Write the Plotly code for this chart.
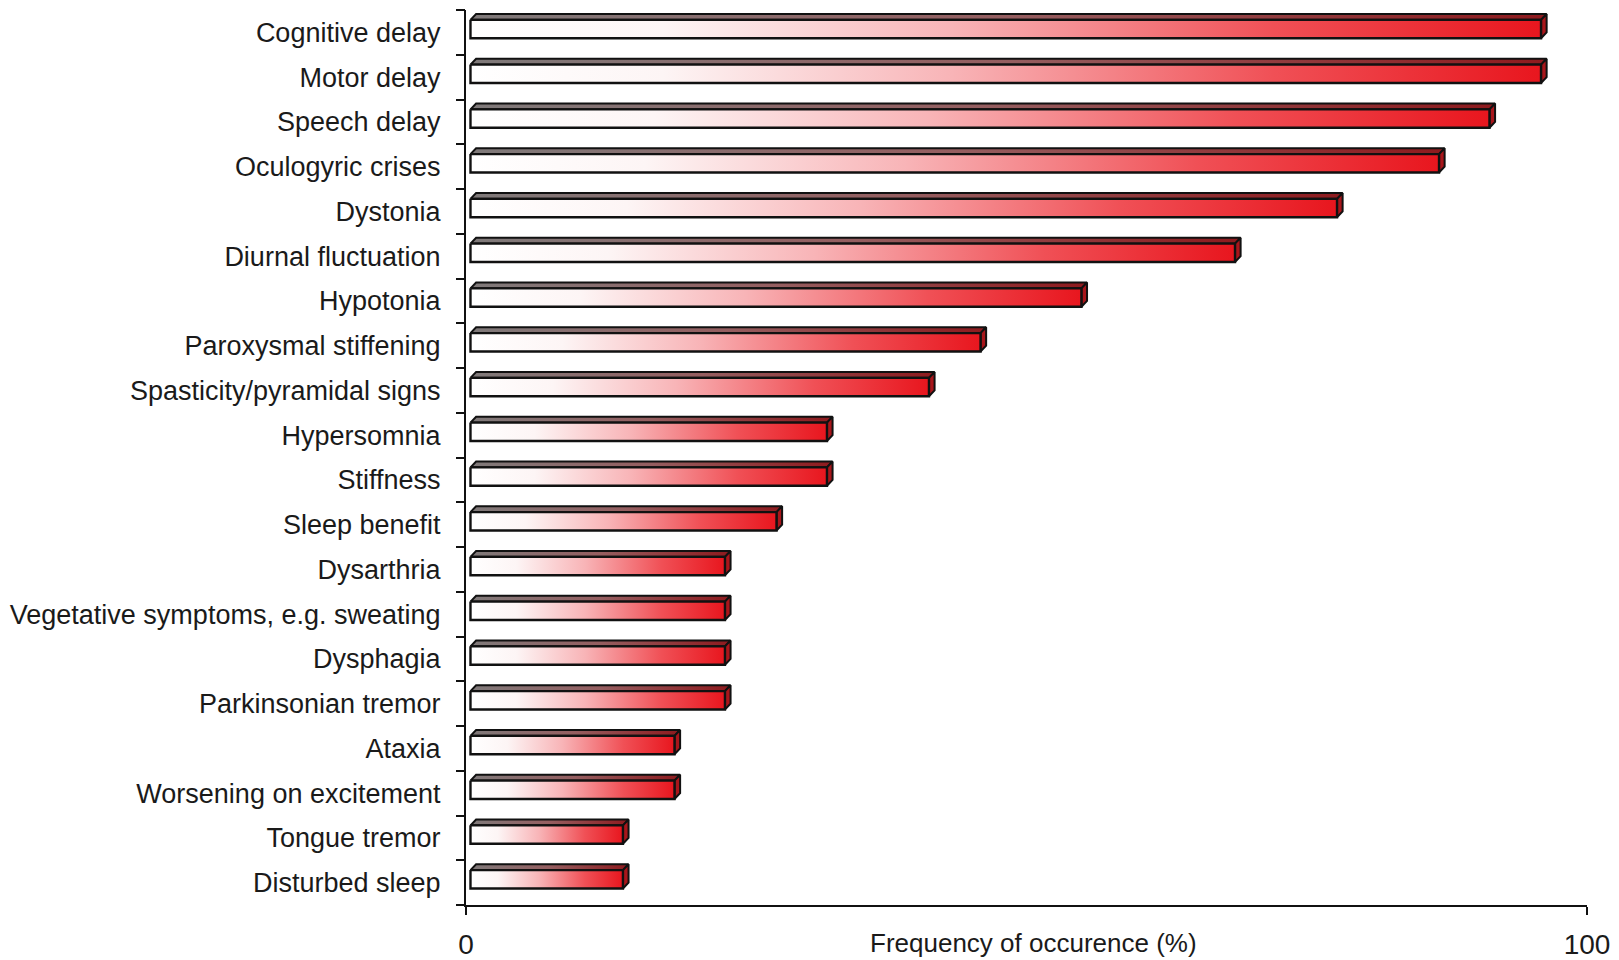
import plotly.graph_objects as go

# Symptom frequencies (%), listed top to bottom
symptoms = [
    "Cognitive delay", "Motor delay", "Speech delay", "Oculogyric crises",
    "Dystonia", "Diurnal fluctuation", "Hypotonia", "Paroxysmal stiffening",
    "Spasticity/pyramidal signs", "Hypersomnia", "Stiffness", "Sleep benefit",
    "Dysarthria", "Vegetative symptoms, e.g. sweating", "Dysphagia",
    "Parkinsonian tremor", "Ataxia", "Worsening on excitement",
    "Tongue tremor", "Disturbed sleep",
]
frequency = [
    95.5, 95.5, 90.9, 86.4, 77.3, 68.2, 54.5, 45.5, 40.9, 31.8,
    31.8, 27.3, 22.7, 22.7, 22.7, 22.7, 18.2, 18.2, 13.6, 13.6,
]
x_ticks = [0, 100]
x_title = "Frequency of occurence (%)"

FONT = "Liberation Sans, Arial, sans-serif"

# pseudo-3D bar geometry (data units)
gap = 0.4          # small gap between axis and bar start
face_top = -0.28   # front face top edge relative to category centre
face_bot = 0.13    # front face bottom edge
depth_x = 0.5      # receding depth along x
depth_y = 0.13     # receding depth along y

front_scale = [[0, "#ffffff"], [0.18, "#fdf5f5"], [0.45, "#f8b4b7"],
               [0.75, "#f05056"], [1, "#e8161e"]]
top_scale = [[0, "#7f7a7a"], [0.5, "#955e60"], [1, "#8e1a1e"]]

fig = go.Figure()
for i, v in enumerate(frequency):
    x0, x1 = gap, gap + v
    yt, yb = i + face_top, i + face_bot
    # top face
    fig.add_trace(go.Scatter(
        x=[x0, x1, x1 + depth_x, x0 + depth_x, x0],
        y=[yt, yt, yt - depth_y, yt - depth_y, yt],
        mode="lines", fill="toself",
        fillgradient=dict(type="horizontal", colorscale=top_scale),
        line=dict(color="#111111", width=2),
        hoverinfo="skip", showlegend=False))
    # side face
    fig.add_trace(go.Scatter(
        x=[x1, x1 + depth_x, x1 + depth_x, x1, x1],
        y=[yt, yt - depth_y, yb - depth_y, yb, yt],
        mode="lines", fill="toself", fillcolor="#a8161b",
        line=dict(color="#111111", width=2),
        hoverinfo="skip", showlegend=False))
    # front face
    fig.add_trace(go.Scatter(
        x=[x0, x1, x1, x0, x0],
        y=[yt, yt, yb, yb, yt],
        mode="lines", fill="toself",
        fillgradient=dict(type="horizontal", colorscale=front_scale),
        line=dict(color="#111111", width=2.4),
        hoverinfo="skip", showlegend=False,
        name=symptoms[i]))

# carrier trace for the boundary-tick axis
fig.add_trace(go.Scatter(x=[None], y=[None], yaxis="y2",
                         hoverinfo="skip", showlegend=False))

n = len(symptoms)
y_range = [n - 0.5, -0.5]
boundaries = [k - 0.5 for k in range(n + 1)]

fig.update_layout(
    width=1619, height=960,
    margin=dict(l=466, r=32, t=10, b=55, autoexpand=False),
    paper_bgcolor="white", plot_bgcolor="white",
    font=dict(family=FONT, color="#1a1a1a"),
    xaxis=dict(
        range=[0, 100], tickvals=x_ticks, ticktext=[str(t) for t in x_ticks],
        ticks="outside", ticklen=8, tickwidth=2, tickcolor="#111111",
        showline=True, linecolor="#111111", linewidth=2.2,
        showgrid=False, zeroline=False, automargin=False,
        tickfont=dict(size=28, family=FONT, color="#1a1a1a"),
        ticklabelstandoff=5,
    ),
    yaxis=dict(
        range=y_range, tickvals=list(range(n)), ticktext=symptoms,
        ticks="", showline=True, linecolor="#111111", linewidth=2.2,
        showgrid=False, zeroline=False, automargin=False,
        tickfont=dict(size=27, family=FONT, color="#1a1a1a"),
        ticklabelstandoff=18,
    ),
    yaxis2=dict(
        overlaying="y", side="left", range=y_range,
        tickvals=boundaries, ticktext=[""] * len(boundaries),
        ticks="outside", ticklen=9, tickwidth=1.5, tickcolor="#111111",
        showline=False, showgrid=False, zeroline=False,
        showticklabels=False, automargin=False,
    ),
    annotations=[dict(
        text=x_title, xref="paper", yref="paper", x=0.506, y=0,
        xanchor="center", yanchor="middle", yshift=-38, showarrow=False,
        font=dict(size=26, family=FONT, color="#1a1a1a"),
    )],
)

fig.write_html("out.html")
